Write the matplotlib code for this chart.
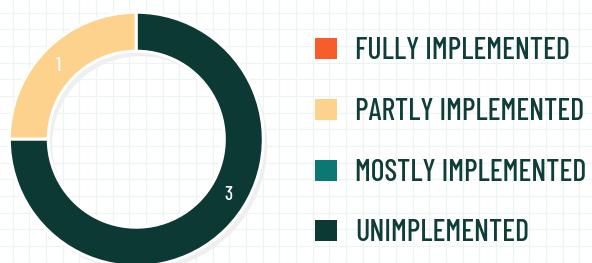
import matplotlib
matplotlib.use("Agg")
import matplotlib.pyplot as plt
from matplotlib.patches import Wedge, Rectangle
import numpy as np

# ---- data ----
categories = ["FULLY IMPLEMENTED", "PARTLY IMPLEMENTED", "MOSTLY IMPLEMENTED", "UNIMPLEMENTED"]
values = [0, 1, 0, 3]
colors = ["#f65d2a", "#fdd28d", "#0b7873", "#0d3935"]
text_color = "#0f3d38"
font = "Barlow Condensed"

W, H = 592, 263
fig = plt.figure(figsize=(W / 100, H / 100), dpi=100)
ax = fig.add_axes([0, 0, 1, 1])

cx, cy = 136.3, H - 139.2
r_out, ring_w = 127.0, 39.0

# shadow ring
ax.add_patch(Wedge((cx + 4, cy - 5), r_out, 0, 360, width=ring_w,
                   facecolor="#efefef", edgecolor="none", zorder=0.9))

nz = [(v, c) for v, c in zip(values, colors) if v > 0]
vals = [v for v, _ in nz]
cols = [c for _, c in nz]
wedges, _ = ax.pie(vals, colors=cols, startangle=90, counterclock=True,
                   radius=r_out, center=(cx, cy),
                   wedgeprops=dict(width=ring_w, edgecolor="white", linewidth=2.2))

# value labels
label_frac = [0.52, 0.55]
r_lab = r_out - ring_w / 2
for w, v, f in zip(wedges, vals, label_frac):
    ang = np.deg2rad(w.theta1 + f * (w.theta2 - w.theta1))
    ax.text(cx + r_lab * np.cos(ang), cy + r_lab * np.sin(ang), str(v),
            color="white", fontsize=14, family=font, weight=500,
            ha="center", va="center", zorder=3)

# legend (manual)
sq_x, sq_w, sq_h = 315, 22, 21
row_top0, row_step = 38.3, 60.7
for i, (lab, c) in enumerate(zip(categories, colors)):
    top = row_top0 + i * row_step
    ax.add_patch(Rectangle((sq_x, H - top - sq_h), sq_w, sq_h, facecolor=c, edgecolor="none", zorder=2))
    ax.text(355, H - (top + sq_h), lab, color=text_color, fontsize=21.5, family=font,
            weight=500, ha="left", va="baseline", zorder=2)

ax.set_xlim(0, W)
ax.set_ylim(0, H)
ax.set_aspect("equal")
ax.set_xticks(np.arange(12.7, W, 16.667))
ax.set_yticks(H - np.arange(12.7, H, 16.667))
ax.grid(True, color="#edf5f3", linewidth=0.9)
ax.set_axisbelow(True)
ax.tick_params(length=0, labelbottom=False, labelleft=False)
for s in ax.spines.values():
    s.set_visible(False)

fig.savefig("out.png", dpi=100)
